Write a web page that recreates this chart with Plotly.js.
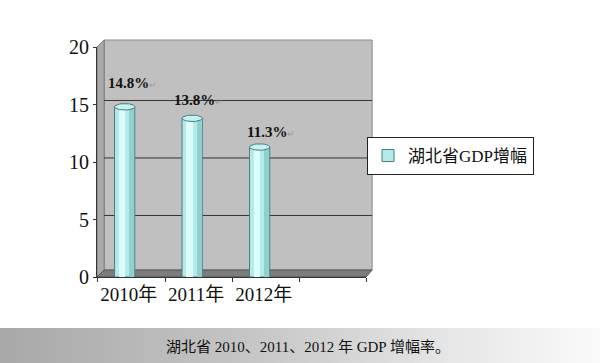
<!DOCTYPE html>
<html><head><meta charset="utf-8">
<script src="https://cdn.plot.ly/plotly-3.0.1.min.js"></script>
<style>
html,body{margin:0;padding:0;background:#fff;}
#wrap{position:relative;width:600px;height:363px;}
#strip{position:absolute;left:0;top:328px;width:600px;height:35px;background:linear-gradient(to right,#a8a8a8 0%,#c4c4c4 40%,#e6e6e6 75%,#fafafa 100%);}
#chart{position:absolute;left:0;top:0;width:600px;height:363px;}
</style></head>
<body><div id="wrap"><div id="strip"></div><div id="chart"></div></div>
<script>
// data
var categories = ["2010年", "2011年", "2012年"];
var growth = [14.8, 13.8, 11.3];
var labels = ["14.8%", "13.8%", "11.3%"];
var seriesName = "湖北省GDP增幅";
var yTicks = [0, 5, 10, 15, 20];
var caption = "湖北省 2010、2011、2012 年 GDP 增幅率。";

var xs = categories.map(function(c, i){ return i; });
var serif = '"Liberation Serif", "Noto Sans CJK SC", serif';
var edge = '#4a7c7c';

var traces = [];
traces.push({type:'bar', x:xs, y:growth, width:0.3, name:seriesName,
  marker:{color:'#b4eaea', line:{color:edge, width:1}}, showlegend:true, hoverinfo:'skip'});
traces.push({type:'bar', x:xs.map(function(x){return x-0.04;}), y:growth, width:0.1,
  marker:{color:'#dcfdfc', line:{width:0}}, showlegend:false, hoverinfo:'skip'});
traces.push({type:'bar', x:xs.map(function(x){return x+0.105;}), y:growth, width:0.07,
  marker:{color:'#8fd0d0', line:{width:0}}, showlegend:false, hoverinfo:'skip'});
xs.forEach(function(x, i){
  var ex = [], ey = [];
  for (var k = 0; k <= 36; k++) {
    var t = k / 36 * 2 * Math.PI;
    ex.push(x + 0.15 * Math.cos(t));
    ey.push(growth[i] + 0.28 * Math.sin(t));
  }
  traces.push({type:'scatter', mode:'lines', x:ex, y:ey, fill:'toself',
    fillcolor:'#c6f3f2', line:{color:edge, width:1}, showlegend:false, hoverinfo:'skip', cliponaxis:false});
});

var labelShift = [[8, 14], [6, 8], [11, 5]];
var annotations = xs.map(function(x, i){
  return {x:x, y:growth[i], xref:'x', yref:'y', text:'<b>'+labels[i]+'</b><span style="font-size:9px;color:#999">↵</span>',
    showarrow:false, yanchor:'bottom', xshift:labelShift[i][0], yshift:labelShift[i][1],
    font:{family:serif, size:15, color:'#111'}};
});
annotations.push({xref:'paper', yref:'paper', x:(303-97)/263, y:(277-347)/230, text:caption,
  showarrow:false, font:{family:serif, size:15, color:'#111'}, xanchor:'center', yanchor:'middle'});

var shapes = [
  {type:'rect', xref:'paper', yref:'paper', x0:7/263, x1:(366-97)/263, y0:7/230, y1:(277-40)/230,
   fillcolor:'#c0c0c0', line:{color:'#8a8a8a', width:1}, layer:'below'},
  {type:'path', xref:'paper', yref:'paper', path:'M 0 0 L '+(7/263)+' '+(7/230)+' L '+(7/263)+' '+((277-40)/230)+' L 0 1 Z',
   fillcolor:'#a9a9a9', line:{color:'#7a7a7a', width:1}, layer:'below'},
  {type:'path', xref:'paper', yref:'paper', path:'M 0 0 L '+(7/263)+' '+(7/230)+' L '+((366-97)/263)+' '+(7/230)+' L 1 0 Z',
   fillcolor:'#7d7d7d', line:{color:'#555', width:1}, layer:'below'}
];
yTicks.slice(1, 4).forEach(function(v){
  shapes.push({type:'line', xref:'paper', yref:'y', x0:7/263, x1:(366-97)/263, y0:v+0.35, y1:v+0.35,
    line:{color:'#333', width:1}, layer:'below'});
});

var layout = {
  width:600, height:363,
  margin:{l:97, r:234, t:47, b:86},
  paper_bgcolor:'rgba(0,0,0,0)', plot_bgcolor:'rgba(0,0,0,0)',
  barmode:'overlay', bargap:0,
  xaxis:{range:[-0.41, 3.576], tickmode:'array', tickvals:xs.map(function(x){return x+0.06;}), ticktext:categories,
    showgrid:false, zeroline:false, showline:true, linecolor:'#333', linewidth:1,
    ticks:'', tickfont:{family:serif, size:19, color:'#111'}, fixedrange:true,
    minor:{tickmode:'array', tickvals:[-0.41, 0.6, 1.595, 2.59, 3.576], ticks:'outside', ticklen:4, tickcolor:'#333', showgrid:false}},
  yaxis:{range:[0, 20], tickmode:'array', tickvals:yTicks, showgrid:false, zeroline:false,
    showline:true, linecolor:'#333', linewidth:1, ticks:'outside', ticklen:3, tickcolor:'#333',
    tickfont:{family:serif, size:20, color:'#111'}, fixedrange:true},
  showlegend:true,
  legend:{x:(361-97)/263, y:(277-137)/230, xanchor:'left', yanchor:'top', bgcolor:'#fff',
    bordercolor:'#222', borderwidth:1, font:{family:serif, size:17, color:'#111'}, itemwidth:30},
  shapes:shapes, annotations:annotations
};
Plotly.newPlot('chart', traces, layout, {displayModeBar:false, staticPlot:true});
</script></body></html>
